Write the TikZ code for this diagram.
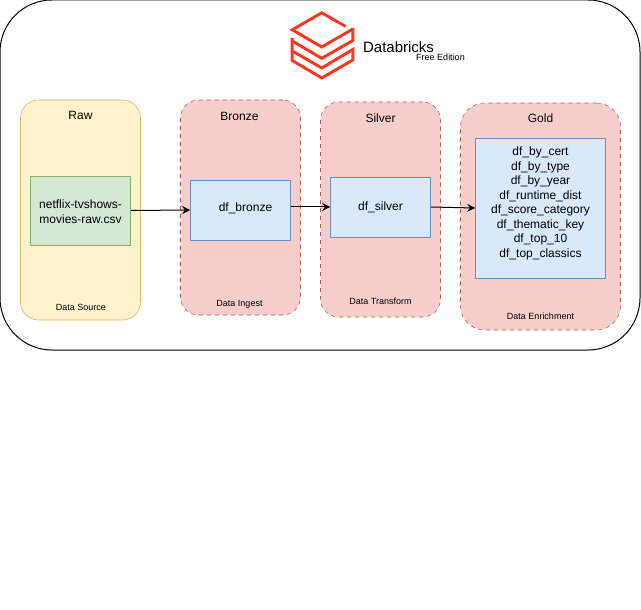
\documentclass[tikz,border=0pt]{standalone}
\usepackage{fontspec}
\setmainfont{Liberation Sans}
\usetikzlibrary{arrows.meta}
\definecolor{rawfill}{HTML}{FFF2CC}
\definecolor{rawline}{HTML}{D6B656}
\definecolor{layerfill}{HTML}{F8CECC}
\definecolor{layerline}{HTML}{B85450}
\definecolor{csvfill}{HTML}{D5E8D4}
\definecolor{csvline}{HTML}{82B366}
\definecolor{dffill}{HTML}{DAE8FC}
\definecolor{dfline}{HTML}{6C8EBF}
\definecolor{logored}{HTML}{FF3621}
\tikzset{
    layer/.style={draw=layerline, fill=layerfill, dashed, rounded corners=13.5pt, minimum width=90pt, inner sep=0pt},
    dfbox/.style={draw=dfline, fill=dffill, inner sep=0pt},
    dflabel/.style={font=\fontsize{9}{10.85}\selectfont, inner sep=0pt, align=center},
    title/.style={font=\fontsize{9}{11}\selectfont, inner sep=0pt},
    caption/.style={font=\fontsize{6.75}{8}\selectfont, inner sep=0pt},
    logoline/.style={logored, line width=2.2pt},
    flow/.style={-{Stealth[length=6pt,width=6pt]}, line width=0.75pt},
}
\begin{document}
\begin{tikzpicture}[x=0.75pt, y=-0.75pt]
    \useasboundingbox (0,0) rectangle (641,609);
    % Frame
    \node[draw, line width=0.75pt, rounded corners=39pt, minimum width=480pt, minimum height=262.5pt, inner sep=0pt] (frame) at (320,175) {};

    % Logo
    \draw[logoline] (345.7,26.5) -- (321.7,12.8) -- (292.2,29.8) -- (321.7,47) -- (352.8,29);
    \draw[logoline] (352.8,28) -- (352.8,40.5) -- (321.7,58.3) -- (292.2,41);
    \draw[logoline] (292.2,38) -- (292.2,60.5) -- (321.7,78) -- (352.8,60) -- (352.8,49.5) -- (321.7,68) -- (292.2,51);
    \node[font=\fontsize{11.25}{13}\selectfont, inner sep=0pt] (brand) at (398.5,47) {Databricks};
    \node[font=\fontsize{6.75}{8}\selectfont, inner sep=0pt] (edition) at (440.5,57) {Free Edition};

    % Layers
    \node[draw=rawline, fill=rawfill, rounded corners=13.5pt, minimum width=90pt, minimum height=165pt, inner sep=0pt] (raw) at (80.5,210) {};
    \node[layer, minimum height=161.25pt] (bronze) at (240.5,207.5) {};
    \node[layer, minimum height=161.25pt] (silver) at (380.5,209.5) {};
    \node[layer, minimum width=120pt, minimum height=170.25pt, rounded corners=18pt] (gold) at (540.5,216.5) {};

    % Layer texts
    \node[title] (rawtitle) at (80.5,115.5) {Raw};
    \node[title] (bronzetitle) at (239.5,116) {Bronze};
    \node[title] (silvertitle) at (380.5,118) {Silver};
    \node[title] (goldtitle) at (540.5,118.5) {Gold};
    \node[caption] (rawcaption) at (81,307) {Data Source};
    \node[caption] (bronzecaption) at (239.5,304) {Data Ingest};
    \node[caption] (silvercaption) at (380.5,301.5) {Data Transform};
    \node[caption] (goldcaption) at (540.5,316.5) {Data Enrichment};

    % Data
    \node[draw=csvline, fill=csvfill, minimum width=75pt, minimum height=51.75pt, inner sep=0pt] (csv) at (80.5,210.5) {};
    \node[dfbox, minimum width=75pt, minimum height=45pt] (dfbronze) at (240.5,210) {};
    \node[dfbox, minimum width=75pt, minimum height=45pt] (dfsilver) at (380.5,207) {};
    \node[dfbox, minimum width=97.5pt, minimum height=105pt] (dfgold) at (540.5,208) {};
    \node[dflabel, font=\fontsize{9}{11.25}\selectfont] (csvlabel) at (80.5,211.5) {netflix-tvshows-\\movies-raw.csv};
    \node[dflabel] (bronzelabel) at (245.5,208) {df\_bronze};
    \node[dflabel] (silverlabel) at (380.5,207.5) {df\_silver};
    \node[dflabel] (goldlabel) at (540.5,203.5) {df\_by\_cert\\df\_by\_type\\df\_by\_year\\df\_runtime\_dist\\df\_score\_category\\df\_thematic\_key\\df\_top\_10\\df\_top\_classics};

    % Flow
    \draw[flow] (csv.east) -- (dfbronze.west);
    \draw[flow] (dfbronze.east |- dfsilver.west) -- (dfsilver.west);
    \draw[flow] (dfsilver.east) -- (dfgold.west);
\end{tikzpicture}
\end{document}
